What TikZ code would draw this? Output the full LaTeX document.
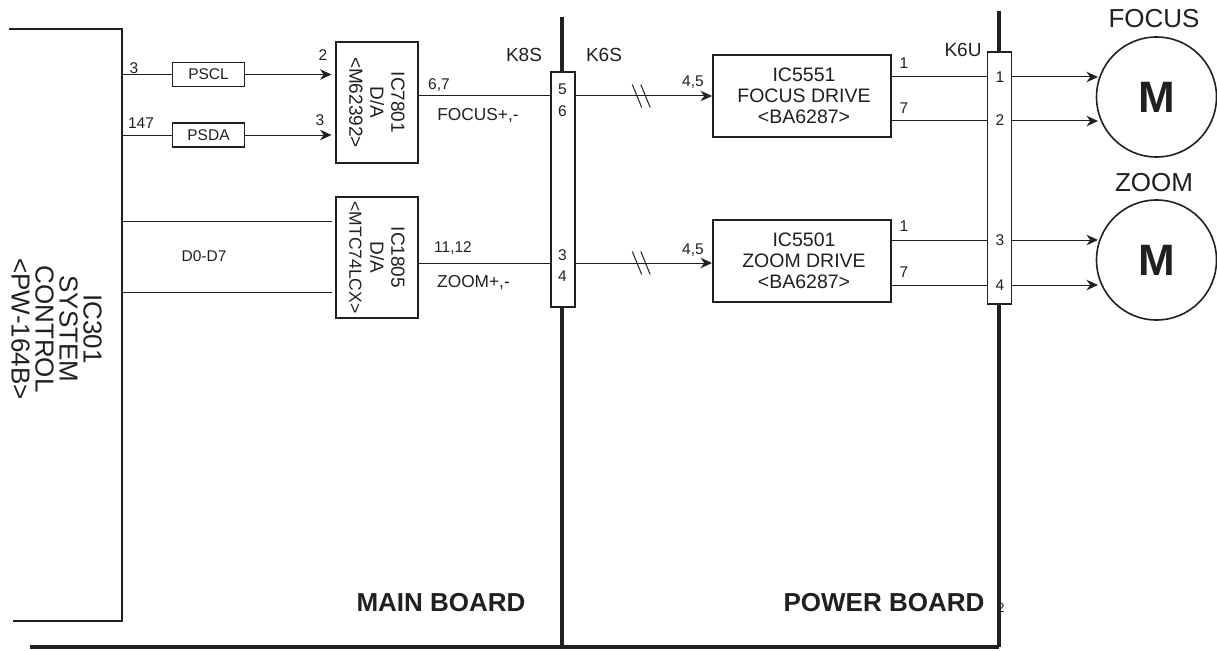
\documentclass[tikz,border=0pt]{standalone}
\usepackage{fontspec}
\setmainfont{Liberation Sans}
\usepackage{xcolor}
\usetikzlibrary{arrows.meta}
\definecolor{inkk}{HTML}{231F20}
\newcommand\fs[1]{\fontsize{#1}{#1}\selectfont}
\newcommand\fsl[2]{\fontsize{#1}{#2}\selectfont}
\tikzset{
  wire/.style={draw=inkk,line width=1pt},
  sig/.style={wire,-{Stealth[length=11.5pt,width=10.5pt]}},
  board/.style={draw=inkk,line width=4.5pt},
  icbox/.style={draw=inkk,line width=2pt,fill=white,inner sep=0pt},
  tagbox/.style={draw=inkk,line width=1.5pt,fill=white,inner sep=0pt,minimum width=72pt,minimum height=24pt,text=inkk,font=\fs{15.5}},
  plug/.style={draw=inkk,line width=1.3pt,fill=white,inner sep=0pt,minimum width=24pt},
  motor/.style={circle,draw=inkk,line width=1.6pt,inner sep=0pt,minimum size=120pt,text=inkk,font=\bfseries\fs{44}},
  lbl/.style={inner sep=0pt,text=inkk,font=\fs{15.5}},
  big/.style={inner sep=0pt,text=inkk,font=\fs{26},align=center},
  ictext/.style={inner sep=0pt,text=inkk,align=center,font=\fsl{19}{21}},
}
\begin{document}
\begin{tikzpicture}[x=1pt,y=-1pt]
\useasboundingbox (0,0) rectangle (1217,650);

% boards
\coordinate (main top) at (562,17);
\coordinate (main end) at (562,647);
\coordinate (power top) at (999,11);
\coordinate (power end) at (999,647);
\coordinate (floor end) at (30,647);
\draw[board] (main top) -- (main end);
\draw[board] (power top) -- (power end);
\draw[board] (floor end) -- (power end);
\node[lbl,font=\bfseries\fs{26}] (mainlbl) at (441,603) {MAIN BOARD};
\node[lbl,font=\bfseries\fs{26}] (powerlbl) at (884,603) {POWER BOARD};
\node[lbl,font=\fs{13}] (tiny) at (1001,608) {2};

% system control
\coordinate (sys a) at (9,29);
\coordinate (sys b) at (122,29);
\coordinate (sys c) at (122,621);
\coordinate (sys d) at (13,621);
\draw[draw=inkk,line width=2pt] (sys a) -- (sys b) -- (sys c) -- (sys d);
\node[big,rotate=-90,font=\fsl{26}{24}] (ic301) at (56.5,329) {IC301\\SYSTEM\\CONTROL\\{<}PW-164B{>}};

% ICs
\node[icbox,minimum width=82pt,minimum height=121pt] (ic7801) at (377,102.5) {};
\node[ictext,rotate=-90] (ic7801txt) at (ic7801) {IC7801\\D/A\\{<}M62392{>}};
\node[icbox,minimum width=82pt,minimum height=121pt] (ic1805) at (377,257.5) {};
\node[ictext,rotate=-90] (ic1805txt) at (ic1805) {IC1805\\D/A\\{\fs{17.5}{<}MTC74LCX{>}}};
\node[icbox,minimum width=178pt,minimum height=82pt] (ic5551) at (802,96) {};
\node[ictext,font=\fsl{19.5}{21}] (ic5551txt) at (804,96) {IC5551\\FOCUS DRIVE\\{<}BA6287{>}};
\node[icbox,minimum width=178pt,minimum height=82pt] (ic5501) at (802,260.5) {};
\node[ictext,font=\fsl{19.5}{21}] (ic5501txt) at (804,260.5) {IC5501\\ZOOM DRIVE\\{<}BA6287{>}};

% connectors
\node[plug,minimum height=235pt] (k8s) at (563,189.5) {};
\node[plug,minimum height=252pt] (k6u) at (999.5,178) {};
\node[lbl,font=\fs{19}] (k8slbl) at (524,55) {K8S};
\node[lbl,font=\fs{19}] (k6slbl) at (604,55) {K6S};
\node[lbl,font=\fs{19}] (k6ulbl) at (963,50) {K6U};

% motors
\node[motor] (focus) at (1156.5,97) {M};
\node[motor] (zoom) at (1156.5,260) {M};
\node[big] (focuslbl) at (1154,19) {FOCUS};
\node[big] (zoomlbl) at (1154,183) {ZOOM};

% left side signals
\node[tagbox] (pscl) at (208.5,74.5) {PSCL};
\node[tagbox] (psda) at (208.5,135) {PSDA};
\coordinate (sclin) at (122,74.5);
\coordinate (sdain) at (122,135);
\coordinate (sclend) at (331.5,74.5);
\coordinate (sdaend) at (331.5,135);
\draw[wire] (sclin) -- (pscl.west);
\draw[wire] (sdain) -- (psda.west);
\draw[sig] (pscl.east) -- (sclend);
\draw[sig] (psda.east) -- (sdaend);
\node[lbl] at (134,68) {3};
\node[lbl] at (141,123.5) {147};
\node[lbl] at (323,55) {2};
\node[lbl] at (320,120) {3};

\coordinate (busa) at (122,221);
\coordinate (busb) at (122,292);
\coordinate (busaend) at (332,221);
\coordinate (busbend) at (332,292);
\draw[wire] (busa) -- (busaend);
\draw[wire] (busb) -- (busbend);
\node[lbl] at (204,256) {D0-D7};

% main to power board
\draw[wire] (ic7801.east |- 0,96) -- (k8s.west |- 0,96);
\draw[wire] (ic1805.east |- 0,263) -- (k8s.west |- 0,263);
\draw[sig] (k8s.east |- 0,96) -- (ic5551.west |- 0,96);
\draw[sig] (k8s.east |- 0,263) -- (ic5501.west |- 0,263);
\foreach \rowy in {96,263}
  \foreach \barx in {637,645.5}
    \draw[wire] (\barx-4.7,\rowy-11.5) -- (\barx+4.7,\rowy+11.5);
\node[lbl] at (439,85) {6,7};
\node[lbl] at (453,248) {11,12};
\node[lbl,font=\fs{17.3}] at (478,116) {FOCUS+,-};
\node[lbl,font=\fs{17.3}] at (473.5,283) {ZOOM+,-};
\node[lbl] at (693,82) {4,5};
\node[lbl] at (693,250) {4,5};
\foreach \num/\numy in {5/89,6/111,3/255,4/276}
  \node[lbl] at (562.5,\numy) {\num};

% power board to motors
\foreach \ic/\mot/\ya/\yb in {ic5551/focus/77/121,ic5501/zoom/240/285} {
  \draw[wire] (\ic.east |- 0,\ya) -- (k6u.west |- 0,\ya);
  \draw[wire] (\ic.east |- 0,\yb) -- (k6u.west |- 0,\yb);
  \draw[sig] (k6u.east |- 0,\ya) -- (1098,\ya);
  \draw[sig] (k6u.east |- 0,\yb) -- (1098,\yb);
  \node[lbl] at (904,\ya-14) {1};
  \node[lbl] at (904,\yb-13) {7};
}
\foreach \num/\numy in {1/77,2/120,3/240,4/285}
  \node[lbl] at (1000,\numy) {\num};
\end{tikzpicture}
\end{document}
